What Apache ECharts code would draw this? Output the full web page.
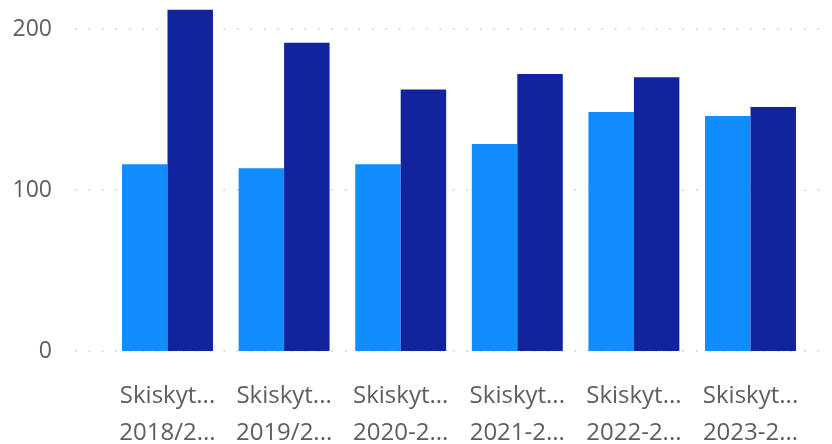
<!DOCTYPE html>
<html>
<head>
<meta charset="utf-8">
<script src="https://cdn.jsdelivr.net/npm/echarts@6/dist/echarts.min.js"></script>
<style>html,body{margin:0;padding:0;background:#fff}#c{width:832px;height:444px}</style>
</head>
<body>
<div id="c"></div>
<script>
const categories = ["Skiskyt...\n2018/2...", "Skiskyt...\n2019/2...", "Skiskyt...\n2020-2...", "Skiskyt...\n2021-2...", "Skiskyt...\n2022-2...", "Skiskyt...\n2023-2..."];
const seriesA = [116, 113.5, 116, 128.5, 148.5, 146];
const seriesB = [212, 191.5, 162.5, 172, 170, 151.5];
const yTicks = [0, 100, 200, 300];

const chart = echarts.init(document.getElementById('c'), null, {renderer: 'canvas'});
const font = '"Segoe UI", "Open Sans", "Noto Sans", sans-serif';
chart.setOption({
  animation: false,
  grid: [
    {left: 75, right: 10, top: -132, bottom: 93, containLabel: false, outerBoundsMode: 'none'},
    {left: 109.2, right: 23.2, top: -132, bottom: 93, containLabel: false, outerBoundsMode: 'none'}
  ],
  xAxis: [
    {gridIndex: 0, type: 'category', data: categories, show: false},
    {gridIndex: 1, type: 'category', data: categories,
      axisLine: {show: false}, axisTick: {show: false},
      axisLabel: {color: '#605E5C', fontSize: 24, fontFamily: font, lineHeight: 36.5, margin: 27, interval: 0}}
  ],
  yAxis: [
    {gridIndex: 0, type: 'value', min: yTicks[0], max: yTicks[yTicks.length-1], interval: 100,
      axisLine: {show: false}, axisTick: {show: false},
      axisLabel: {color: '#605E5C', fontSize: 23, fontFamily: font, margin: 23},
      splitLine: {show: true, lineStyle: {color: '#C8C6C4', type: [1.5, 12], width: 1.5}}},
    {gridIndex: 1, type: 'value', min: yTicks[0], max: yTicks[yTicks.length-1], interval: 100, show: false, splitLine: {show: false}}
  ],
  series: [
    {type: 'bar', name: 'A', xAxisIndex: 1, yAxisIndex: 1, data: seriesA, itemStyle: {color: '#118DFF'}, barGap: '0%', barCategoryGap: '22%'},
    {type: 'bar', name: 'B', xAxisIndex: 1, yAxisIndex: 1, data: seriesB, itemStyle: {color: '#12239E'}, barGap: '0%', barCategoryGap: '22%'}
  ]
});
</script>
</body>
</html>
